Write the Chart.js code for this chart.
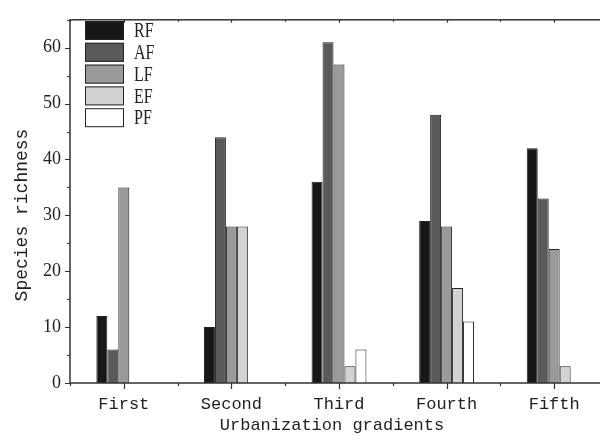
<!DOCTYPE html>
<html>
<head>
<meta charset="utf-8">
<script src="https://cdn.jsdelivr.net/npm/chart.js@4"></script>
<style>
  body { margin: 0; background: #fff; }
  #wrap { width: 600px; height: 441px; overflow: hidden; position: relative; }
</style>
</head>
<body>
<div id="wrap"><canvas id="chart" width="615" height="441"></canvas></div>
<script>
// categories and series
const categories = ['First', 'Second', 'Third', 'Fourth', 'Fifth'];
const seriesNames = ['RF', 'AF', 'LF', 'EF', 'PF'];
const rfValues = [12, 10, 36, 29, 42];
const afValues = [6, 44, 61, 48, 33];
const lfValues = [35, 28, 57, 28, 24];
const efValues = [0, 28, 3, 17, 3];
const pfValues = [0, 0, 6, 11, 0];
const yMax = 65;
const yStep = 10;

const fills = ['#171717', '#5a5a5a', '#9a9a9a', '#d2d2d2', '#ffffff'];
const allValues = [rfValues, afValues, lfValues, efValues, pfValues];

const axisColor = '#333';

// frame, tick marks and axis titles
const framePlugin = {
    id: 'frame',
    afterDraw(chart) {
        const ctx = chart.ctx;
        const a = chart.chartArea;
        const x = chart.scales.x;
        const y = chart.scales.y;
        ctx.save();
        ctx.strokeStyle = axisColor;
        ctx.lineWidth = 1.5;
        ctx.strokeRect(a.left, a.top, a.right - a.left, a.bottom - a.top);

        ctx.lineWidth = 1.2;
        ctx.beginPath();
        // y ticks, outward
        for (let v = 0; v <= yMax; v += 5) {
            const py = Math.round(y.getPixelForValue(v)) + 0.5;
            const len = v % 10 === 0 ? 5 : 3;
            ctx.moveTo(a.left, py);
            ctx.lineTo(a.left - len, py);
        }
        // x ticks: major at centres, minor at boundaries
        const half = (x.getPixelForValue(1) - x.getPixelForValue(0)) / 2;
        for (let i = 0; i < categories.length; i++) {
            const cx = Math.round(x.getPixelForValue(i)) + 0.5;
            ctx.moveTo(cx, a.bottom);
            ctx.lineTo(cx, a.bottom + 6);
            ctx.moveTo(cx, a.top);
            ctx.lineTo(cx, a.top + 3);
            const bx = Math.round(x.getPixelForValue(i) - half) + 0.5;
            ctx.moveTo(bx, a.bottom);
            ctx.lineTo(bx, a.bottom + 3);
            ctx.moveTo(bx, a.top);
            ctx.lineTo(bx, a.top + 2);
        }
        ctx.stroke();

        // axis titles
        ctx.fillStyle = '#222';
        ctx.textAlign = 'center';
        ctx.textBaseline = 'middle';
        ctx.font = '17px "Liberation Mono"';
        ctx.fillText('Urbanization gradients', 332, 425);
        ctx.translate(22, 215);
        ctx.rotate(-Math.PI / 2);
        ctx.font = '18px "Liberation Mono"';
        ctx.fillText('Species richness', 0, 0);
        ctx.restore();
    }
};

// legend drawn inside the plot
const legendPlugin = {
    id: 'innerLegend',
    afterDraw(chart) {
        const ctx = chart.ctx;
        ctx.save();
        chart.data.datasets.forEach((ds, i) => {
            const top = 21 + i * 21.8;
            ctx.fillStyle = ds.backgroundColor;
            ctx.fillRect(85, top, 39, 19);
            ctx.strokeStyle = '#222';
            ctx.lineWidth = 1;
            ctx.strokeRect(85.5, top + 0.5, 38, 18);
            ctx.save();
            ctx.translate(134, top + 10);
            ctx.scale(0.8, 1);
            ctx.fillStyle = '#222';
            ctx.font = '20px "Liberation Serif"';
            ctx.textBaseline = 'middle';
            ctx.fillText(ds.label, 0, 1);
            ctx.restore();
        });
        ctx.restore();
    }
};

const ctx = document.getElementById('chart').getContext('2d');
new Chart(ctx, {
    type: 'bar',
    data: {
        labels: categories,
        datasets: seriesNames.map((name, i) => ({
            label: name,
            data: allValues[i],
            backgroundColor: fills[i],
            borderColor: '#222',
            borderWidth: 1,
            categoryPercentage: 0.51,
            barPercentage: 1
        }))
    },
    options: {
        responsive: false,
        animation: false,
        devicePixelRatio: 1,
        layout: { padding: { top: 10, right: 7, left: 0, bottom: 0 } },
        plugins: {
            legend: { display: false },
            tooltip: { enabled: false }
        },
        scales: {
            x: {
                offset: true,
                grid: { display: false, drawTicks: false },
                border: { display: false },
                ticks: {
                    color: '#222',
                    padding: 11,
                    maxRotation: 0,
                    font: { family: 'Liberation Mono', size: 17 }
                },
                afterFit: s => { s.height = 58; }
            },
            y: {
                min: 0,
                max: yMax,
                grid: { display: false, drawTicks: false },
                border: { display: false },
                ticks: {
                    stepSize: yStep,
                    color: '#222',
                    padding: 9,
                    font: { family: 'Liberation Serif', size: 18 },
                    callback: v => (v % 10 === 0 ? v : '')
                },
                afterFit: s => { s.width = 70; }
            }
        }
    },
    plugins: [framePlugin, legendPlugin]
});
</script>
</body>
</html>
